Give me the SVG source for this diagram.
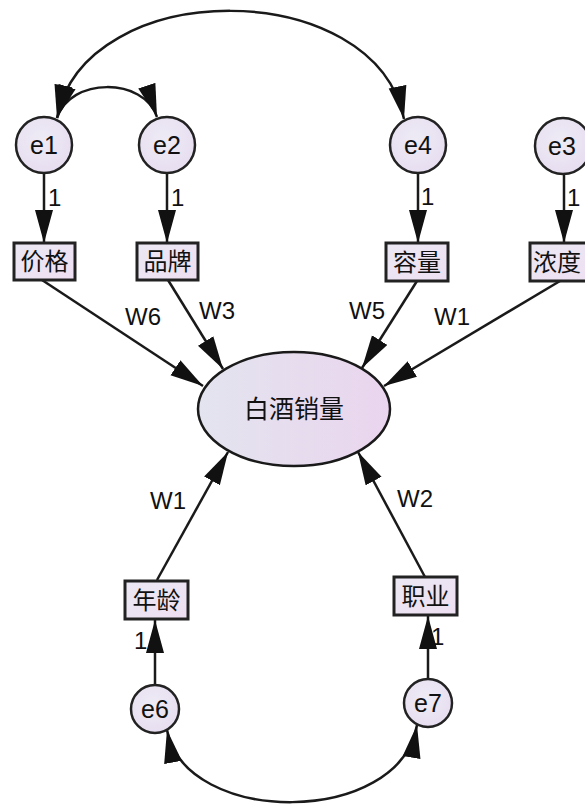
<svg xmlns="http://www.w3.org/2000/svg" width="585" height="805" viewBox="0 0 585 805">
  <defs>
    <linearGradient id="ovalFill" x1="0" y1="0" x2="1" y2="0">
      <stop offset="0" stop-color="#e3e4ef"/>
      <stop offset="1" stop-color="#ead5ee"/>
    </linearGradient>
    <radialGradient id="circleFill" cx="0.45" cy="0.4" r="0.7">
      <stop offset="0" stop-color="#eeebf5"/>
      <stop offset="1" stop-color="#e6dcf0"/>
    </radialGradient>
    <linearGradient id="boxFill" x1="0" y1="0" x2="1" y2="1">
      <stop offset="0" stop-color="#ebe8f3"/>
      <stop offset="1" stop-color="#eedff2"/>
    </linearGradient>
    <marker id="arrow" markerUnits="userSpaceOnUse" markerWidth="34" markerHeight="19" refX="33" refY="9" orient="auto-start-reverse" viewBox="0 0 34 18">
      <path d="M0,0 L33,9 L0,18 Z" fill="#111"/>
    </marker>
  </defs>
  <style>
    .conn { fill: none; stroke: #1a1a1a; stroke-width: 2.5; }
    .err circle { fill: url(#circleFill); stroke: #222; stroke-width: 2.5; }
    .obs rect { fill: url(#boxFill); stroke: #222; stroke-width: 3; }
    .lat ellipse { fill: url(#ovalFill); stroke: #1a1a1a; stroke-width: 2.5; }
    .lat-text, .obs text { font-family: "Noto Sans CJK SC", "Noto Sans", sans-serif; fill: #111; text-anchor: middle; }
    .obs text { font-size: 24px; }
    .lat-text { font-size: 25px; }
    .err text { font-family: "Liberation Sans", Arial, sans-serif; font-size: 25px; fill: #111; text-anchor: middle; }
    .lbl { font-family: "Liberation Sans", Arial, sans-serif; font-size: 24px; fill: #111; }
    .w { text-anchor: middle; }
  </style>

  <rect width="585" height="805" fill="#ffffff"/>

  <!-- connectors: covariances, loadings and regression paths -->
  <g id="connectors">
    <path class="conn" d="M57,118 C85,-25 375,-25 404,119" marker-start="url(#arrow)" marker-end="url(#arrow)"/>
    <path class="conn" d="M57,118 C70,77 144,77 157,117" marker-start="url(#arrow)" marker-end="url(#arrow)"/>
    <path class="conn" d="M167,730 C185,827 400,827 417,725" marker-start="url(#arrow)" marker-end="url(#arrow)"/>

    <line class="conn" x1="44" y1="173" x2="44" y2="243" marker-end="url(#arrow)"/>
    <line class="conn" x1="167" y1="173" x2="167" y2="243" marker-end="url(#arrow)"/>
    <line class="conn" x1="418" y1="174" x2="418" y2="243" marker-end="url(#arrow)"/>
    <line class="conn" x1="564" y1="174" x2="564" y2="243" marker-end="url(#arrow)"/>

    <line class="conn" x1="155" y1="685" x2="155" y2="620" marker-end="url(#arrow)"/>
    <line class="conn" x1="428" y1="679" x2="428" y2="616" marker-end="url(#arrow)"/>

    <line class="conn" x1="42" y1="280" x2="203" y2="386" marker-end="url(#arrow)"/>
    <line class="conn" x1="168" y1="280" x2="223" y2="369" marker-end="url(#arrow)"/>
    <line class="conn" x1="417" y1="281" x2="362" y2="368" marker-end="url(#arrow)"/>
    <line class="conn" x1="560" y1="281" x2="384" y2="386" marker-end="url(#arrow)"/>
    <line class="conn" x1="157" y1="580" x2="228" y2="452" marker-end="url(#arrow)"/>
    <line class="conn" x1="425" y1="577" x2="358" y2="452" marker-end="url(#arrow)"/>

    <text class="lbl" x="48" y="206">1</text>
    <text class="lbl" x="171" y="206">1</text>
    <text class="lbl" x="421" y="205">1</text>
    <text class="lbl" x="567" y="206">1</text>
    <text class="lbl" x="134" y="649">1</text>
    <text class="lbl" x="431" y="645">1</text>

    <text class="lbl w" x="143" y="325">W6</text>
    <text class="lbl w" x="217" y="319">W3</text>
    <text class="lbl w" x="367" y="319">W5</text>
    <text class="lbl w" x="452" y="325">W1</text>
    <text class="lbl w" x="168" y="509">W1</text>
    <text class="lbl w" x="415" y="507">W2</text>
  </g>

  <!-- error terms -->
  <g id="e1" class="err"><circle cx="44" cy="145" r="28"/><text x="44" y="154">e1</text></g>
  <g id="e2" class="err"><circle cx="167" cy="145" r="28"/><text x="167" y="154">e2</text></g>
  <g id="e4" class="err"><circle cx="418" cy="145" r="28"/><text x="418" y="154">e4</text></g>
  <g id="e3" class="err"><circle cx="563" cy="146" r="28"/><text x="562" y="155">e3</text></g>
  <g id="e6" class="err"><circle cx="155" cy="709" r="24"/><text x="155" y="718">e6</text></g>
  <g id="e7" class="err"><circle cx="428" cy="703" r="24"/><text x="428" y="712">e7</text></g>

  <!-- observed variables -->
  <g id="price" class="obs"><rect x="14" y="243" width="61" height="37"/><text x="44.5" y="270">价格</text></g>
  <g id="brand" class="obs"><rect x="137" y="243" width="61" height="37"/><text x="167.5" y="270">品牌</text></g>
  <g id="volume" class="obs"><rect x="386" y="243" width="62" height="38"/><text x="417" y="271">容量</text></g>
  <g id="strength" class="obs"><rect x="530" y="243" width="66" height="38"/><text x="557" y="271">浓度</text></g>
  <g id="age" class="obs"><rect x="125" y="581" width="63" height="38"/><text x="156.5" y="609">年龄</text></g>
  <g id="job" class="obs"><rect x="394" y="577" width="63" height="38"/><text x="425.5" y="605">职业</text></g>

  <!-- latent outcome -->
  <g id="sales" class="lat">
    <ellipse cx="294" cy="409" rx="96" ry="57"/>
    <text class="lat-text" x="294" y="418">白酒销量</text>
  </g>
</svg>
